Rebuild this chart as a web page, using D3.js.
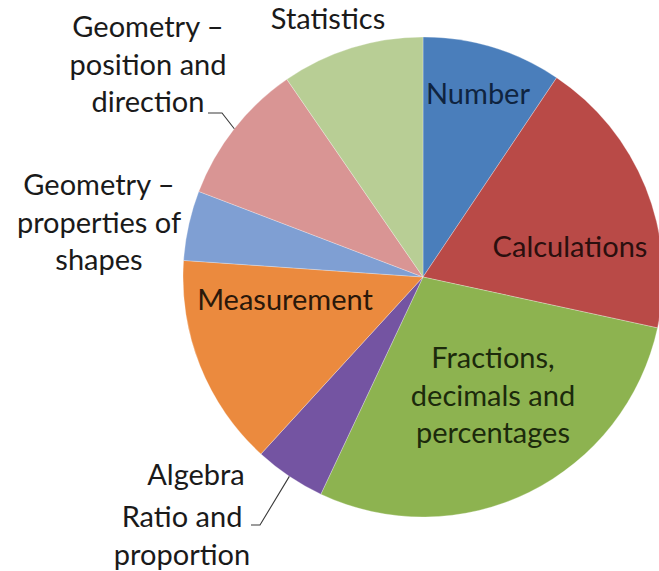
<!DOCTYPE html>
<html>
<head>
<meta charset="utf-8">
<script src="https://cdn.jsdelivr.net/npm/d3@7"></script>
<style>
  html, body { margin: 0; padding: 0; background: #fff; }
  svg { display: block; }
  text { font-family: Lato, "Open Sans", sans-serif; }
</style>
</head>
<body>
<svg id="chart" width="659" height="571"></svg>
<script>
// Share of the maths curriculum by domain (percent)
const categories = [
  "Number",
  "Calculations",
  "Fractions, decimals and percentages",
  "Ratio and proportion",
  "Algebra",
  "Measurement",
  "Geometry – properties of shapes",
  "Geometry – position and direction",
  "Statistics"
];
const shares = [9.4, 19.0, 28.6, 4.8, 0, 14.3, 4.7, 9.6, 9.6];

// Slice fills, one per domain
const colors = [
  "#4a7ebb", "#b94a47", "#8db350", "#7454a2", "#4bacc6",
  "#eb8a3e", "#7f9fd3", "#d99594", "#b8ce95"
];

// Label text, wrapped onto lines, with placement and ink colour
const labelLayout = {
  "Number": { lines: ["Number"], x: 478, y: 104, fill: "#0f2440" },
  "Calculations": { lines: ["Calculations"], x: 570, y: 257, fill: "#2a0f0e" },
  "Fractions, decimals and percentages": { lines: ["Fractions,", "decimals and", "percentages"], x: 493, y: 368, fill: "#1c2a0c" },
  "Ratio and proportion": { lines: ["Ratio and", "proportion"], x: 182, y: 527, fill: "#1a1a1a", leader: { x0: 251, x1: 260, y: 525 } },
  "Algebra": { lines: ["Algebra"], x: 196, y: 485, fill: "#1a1a1a" },
  "Measurement": { lines: ["Measurement"], x: 285, y: 310, fill: "#2a180a" },
  "Geometry – properties of shapes": { lines: ["Geometry –", "properties of", "shapes"], x: 99, y: 195, fill: "#1a1a1a" },
  "Geometry – position and direction": { lines: ["Geometry –", "position and", "direction"], x: 148, y: 37, fill: "#1a1a1a", leader: { x0: 208, x1: 222, y: 113 } },
  "Statistics": { lines: ["Statistics"], x: 328, y: 29, fill: "#1a1a1a" }
};

const width = 659, height = 571;
const cx = 423, cy = 277, radius = 240;
const fontSize = 29, lineHeight = 37.5;

const data = categories.map((c, i) => ({ category: c, value: shares[i], color: colors[i] }));

const svg = d3.select("#chart");
const g = svg.append("g").attr("transform", `translate(${cx},${cy})`);

const pie = d3.pie().sort(null).value(d => d.value);
const arc = d3.arc().innerRadius(0).outerRadius(radius);
const arcs = pie(data);

g.selectAll("path.slice")
  .data(arcs.filter(a => a.endAngle > a.startAngle))
  .join("path")
  .attr("class", "slice")
  .attr("d", arc)
  .attr("fill", d => d.data.color)
  .attr("stroke", "rgba(255,255,255,0.35)")
  .attr("stroke-width", 0.8);

// Leader lines run from the label to the middle of its slice's rim
arcs.forEach(a => {
  const lay = labelLayout[a.data.category];
  if (!lay || !lay.leader) return;
  const mid = (a.startAngle + a.endAngle) / 2;
  const ex = cx + Math.sin(mid) * radius;
  const ey = cy - Math.cos(mid) * radius;
  svg.append("path")
    .attr("d", d3.line()([[lay.leader.x0, lay.leader.y], [lay.leader.x1, lay.leader.y], [ex, ey]]))
    .attr("fill", "none")
    .attr("stroke", "#3a3a3a")
    .attr("stroke-width", 1.1);
});

// Category labels
arcs.forEach(a => {
  const lay = labelLayout[a.data.category];
  const t = svg.append("text")
    .attr("text-anchor", "middle")
    .attr("font-size", fontSize)
    .attr("fill", lay.fill);
  lay.lines.forEach((ln, i) => {
    t.append("tspan").attr("x", lay.x).attr("y", lay.y + i * lineHeight).text(ln);
  });
});
</script>
</body>
</html>
